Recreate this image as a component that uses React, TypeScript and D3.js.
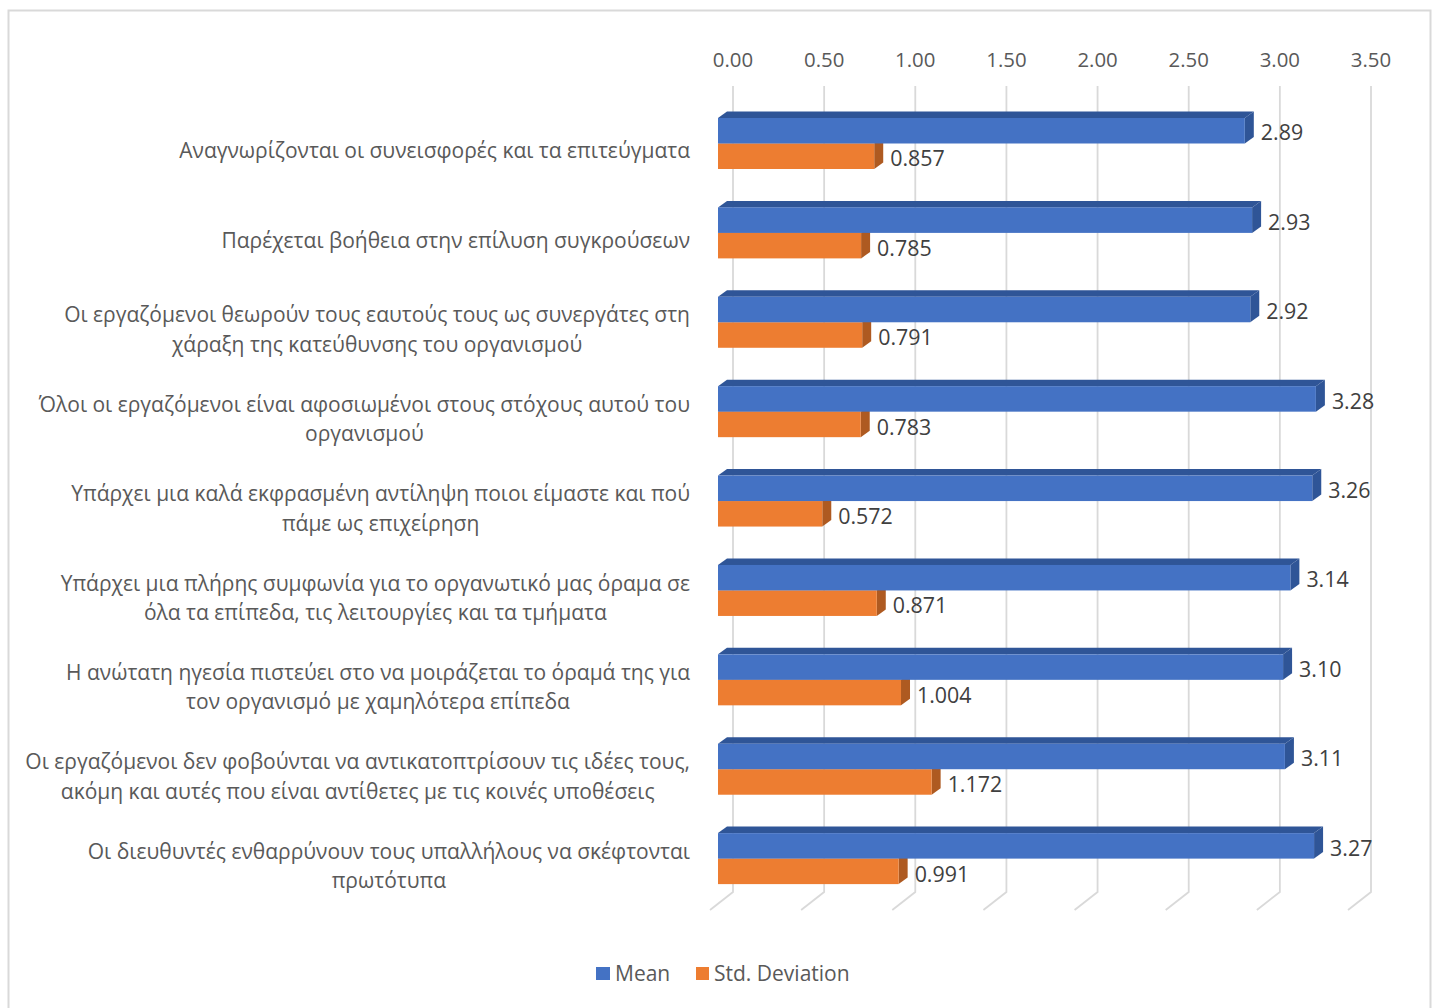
import React from "react";
import * as d3 from "d3";

const categories: string[][] = [
  ["Αναγνωρίζονται οι συνεισφορές και τα επιτεύγματα"],
  ["Παρέχεται βοήθεια στην επίλυση συγκρούσεων"],
  ["Οι εργαζόμενοι θεωρούν τους εαυτούς τους ως συνεργάτες στη", "χάραξη της κατεύθυνσης του οργανισμού"],
  ["Όλοι οι εργαζόμενοι είναι αφοσιωμένοι στους στόχους αυτού του", "οργανισμού"],
  ["Υπάρχει μια καλά εκφρασμένη αντίληψη ποιοι είμαστε και πού", "πάμε ως επιχείρηση"],
  ["Υπάρχει μια πλήρης συμφωνία για το οργανωτικό μας όραμα σε", "όλα τα επίπεδα, τις λειτουργίες και τα τμήματα"],
  ["Η ανώτατη ηγεσία πιστεύει στο να μοιράζεται το όραμά της για", "τον οργανισμό με χαμηλότερα επίπεδα"],
  ["Οι εργαζόμενοι δεν φοβούνται να αντικατοπτρίσουν τις ιδέες τους,", "ακόμη και αυτές που είναι αντίθετες με τις κοινές υποθέσεις"],
  ["Οι διευθυντές ενθαρρύνουν τους υπαλλήλους να σκέφτονται", "πρωτότυπα"],
];
const meanValues = [2.89, 2.93, 2.92, 3.28, 3.26, 3.14, 3.1, 3.11, 3.27];
const meanLabels = ["2.89", "2.93", "2.92", "3.28", "3.26", "3.14", "3.10", "3.11", "3.27"];
const stdValues = [0.857, 0.785, 0.791, 0.783, 0.572, 0.871, 1.004, 1.172, 0.991];
const stdLabels = ["0.857", "0.785", "0.791", "0.783", "0.572", "0.871", "1.004", "1.172", "0.991"];
const ticks = [0, 0.5, 1, 1.5, 2, 2.5, 3, 3.5];

const FONT = "'Open Sans', 'Noto Sans', sans-serif";
const TEXT = "#595959";
const LABEL_SIZE = 21;
const x = d3.scaleLinear().domain([0, 3.5]).range([718, 1356]);
const y = d3.scaleBand<number>().domain(d3.range(9)).range([97.5, 902]).paddingInner(0).paddingOuter(0);
const BAR_H = 25.5;
const DX = 9;
const DY = 6.5;
const WALL = 15;

const ctx = document.createElement("canvas").getContext("2d")!;
function textWidth(s: string): number {
  ctx.font = `${LABEL_SIZE}px 'Open Sans'`;
  return ctx.measureText(s).width;
}

function Bar3D({ v, top, front, topC, side }: { v: number; top: number; front: string; topC: string; side: string }) {
  const x0 = x(0);
  const x1 = x(v);
  const b = top + BAR_H;
  return (
    <g>
      <polygon points={`${x0},${top} ${x0 + DX},${top - DY} ${x1 + DX},${top - DY} ${x1},${top}`} fill={topC} />
      <polygon points={`${x1},${top} ${x1 + DX},${top - DY} ${x1 + DX},${b - DY} ${x1},${b}`} fill={side} />
      <rect x={x0} y={top} width={x1 - x0} height={BAR_H} fill={front} />
    </g>
  );
}

export default function App() {
  return (
    <svg width={1438} height={1008} style={{ position: "absolute", left: 0, top: 0, background: "#fff" }} fontFamily={FONT}>
      <path d="M8.5,1008 V10.5 H1430.5 V1008" fill="none" stroke="#d9d9d9" strokeWidth={2} />
      {ticks.map((t) => {
        const gx = x(t) + WALL;
        return (
          <g key={t}>
            <path d={`M${gx},86 V892 L${gx - 23},910`} fill="none" stroke="#d9d9d9" strokeWidth={1.8} />
            <text x={gx} y={66.5} textAnchor="middle" fontSize={20.4} fill={TEXT}>{t.toFixed(2)}</text>
          </g>
        );
      })}
      {categories.map((lines, i) => {
        const band = y(i)!;
        const meanTop = band + 20.5;
        const stdTop = meanTop + BAR_H;
        const cy = band + 53.5;
        const start = lines.length === 1 ? cy : cy - 14.7;
        const centre = 690 - textWidth(lines[0]) / 2;
        return (
          <g key={i}>
            <Bar3D v={stdValues[i]} top={stdTop} front="#ed7d31" topC="#f4a36c" side="#ae5a21" />
            <Bar3D v={meanValues[i]} top={meanTop} front="#4472c4" topC="#2f5597" side="#2f5597" />
            {lines.map((l, j) => (
              <text key={j} x={centre} y={start + j * 29.4} dy="0.35em" textAnchor="middle" fontSize={LABEL_SIZE} fill={TEXT}>{l}</text>
            ))}
            <text x={x(meanValues[i]) + 16} y={meanTop + 15} dy="0.35em" fontSize={21.4} fill="#404040">{meanLabels[i]}</text>
            <text x={x(stdValues[i]) + 16} y={stdTop + 15.5} dy="0.35em" fontSize={21.4} fill="#404040">{stdLabels[i]}</text>
          </g>
        );
      })}
      <rect x={596} y={967} width={14} height={13} fill="#4472c4" />
      <text x={615} y={981} fontSize={21} fill={TEXT}>Mean</text>
      <rect x={696} y={967} width={13} height={13} fill="#ed7d31" />
      <text x={714} y={981} fontSize={21} fill={TEXT}>Std. Deviation</text>
    </svg>
  );
}
